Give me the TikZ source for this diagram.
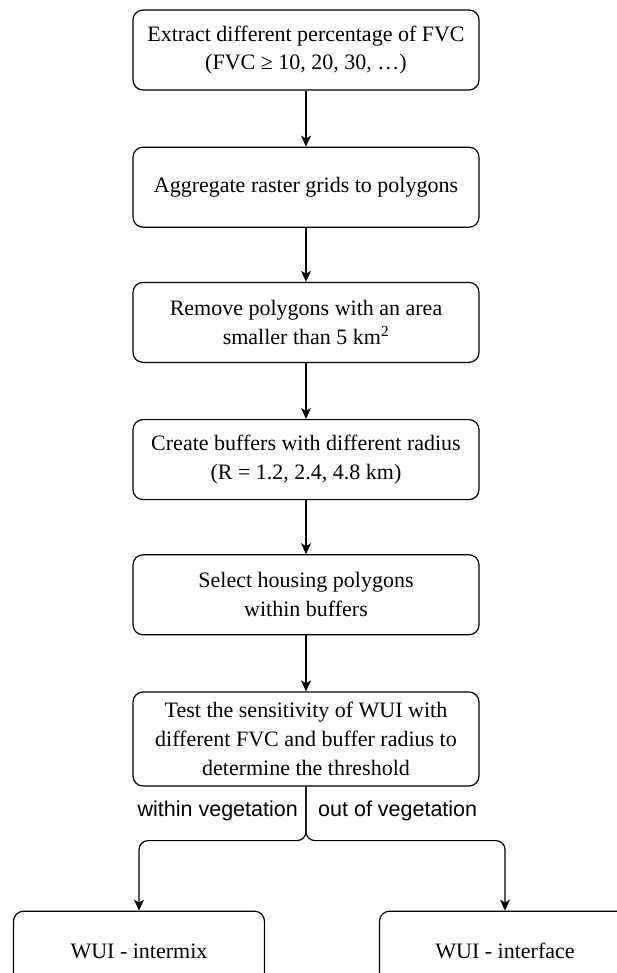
\documentclass[tikz,border=0pt]{standalone}
\usepackage{fontspec}
\setmainfont{Liberation Serif}
\newfontfamily\labelfont{Liberation Sans}
\usetikzlibrary{arrows.meta,positioning}

\begin{document}
\begin{tikzpicture}[
		node distance=55pt and 0pt,
		stepbox/.style={rectangle, draw, rounded corners=10pt, line width=1.2pt, minimum width=346pt, minimum height=80pt, align=center, font=\fontsize{22}{28.7}\selectfont},
		resultbox/.style={stepbox, minimum width=251pt},
		arrow/.style={-{Stealth[length=11pt, width=10pt, inset=3pt]}, line width=1.2pt},
		split/.style={arrow, rounded corners=9pt},
		label/.style={font=\labelfont\fontsize{21.5}{24}\selectfont, inner sep=0pt}
		]
		\useasboundingbox (0,0) rectangle (617pt,-973pt);
		\clip (0,0) rectangle (617pt,-973pt);

		% Steps
		\node[stepbox] (extract) at (306pt,-50pt) {Extract different percentage of FVC\\(FVC ≥ 10, 20, 30, …)};
		\node[stepbox, below=56pt of extract] (aggregate) {Aggregate raster grids to polygons};
		\node[stepbox, below=54pt of aggregate] (remove) {Remove polygons with an area\\smaller than 5 km\textsuperscript{2}};
		\node[stepbox, below=56pt of remove] (buffer) {Create buffers with different radius\\(R = 1.2, 2.4, 4.8 km)};
		\node[stepbox, below=54pt of buffer] (select) {Select housing polygons\\within buffers};
		\node[stepbox, below=56pt of select, minimum height=94pt] (test) {Test the sensitivity of WUI with\\different FVC and buffer radius to\\determine the threshold};

		% Results
		\node[resultbox, below=124pt of test, xshift=-167pt] (intermix) {WUI - intermix};
		\node[resultbox, below=124pt of test, xshift=199pt] (interface) {WUI - interface};

		% Split point
		\coordinate[below=54pt of test] (fork);

		% Arrows between steps
		\draw[arrow] (extract) -- (aggregate);
		\draw[arrow] (aggregate) -- (remove);
		\draw[arrow] (remove) -- (buffer);
		\draw[arrow] (buffer) -- (select);
		\draw[arrow] (select) -- (test);

		% Arrows to results
		\draw[split] (test.south) -- (fork) -| (intermix.north);
		\draw[split] (test.south) -- (fork) -| (interface.north);

		% Labels
		\node[label, anchor=east] at ([xshift=-8pt, yshift=30pt]fork) {within vegetation};
		\node[label, anchor=west] at ([xshift=12pt, yshift=30pt]fork) {out of vegetation};

	\end{tikzpicture}
\end{document}
